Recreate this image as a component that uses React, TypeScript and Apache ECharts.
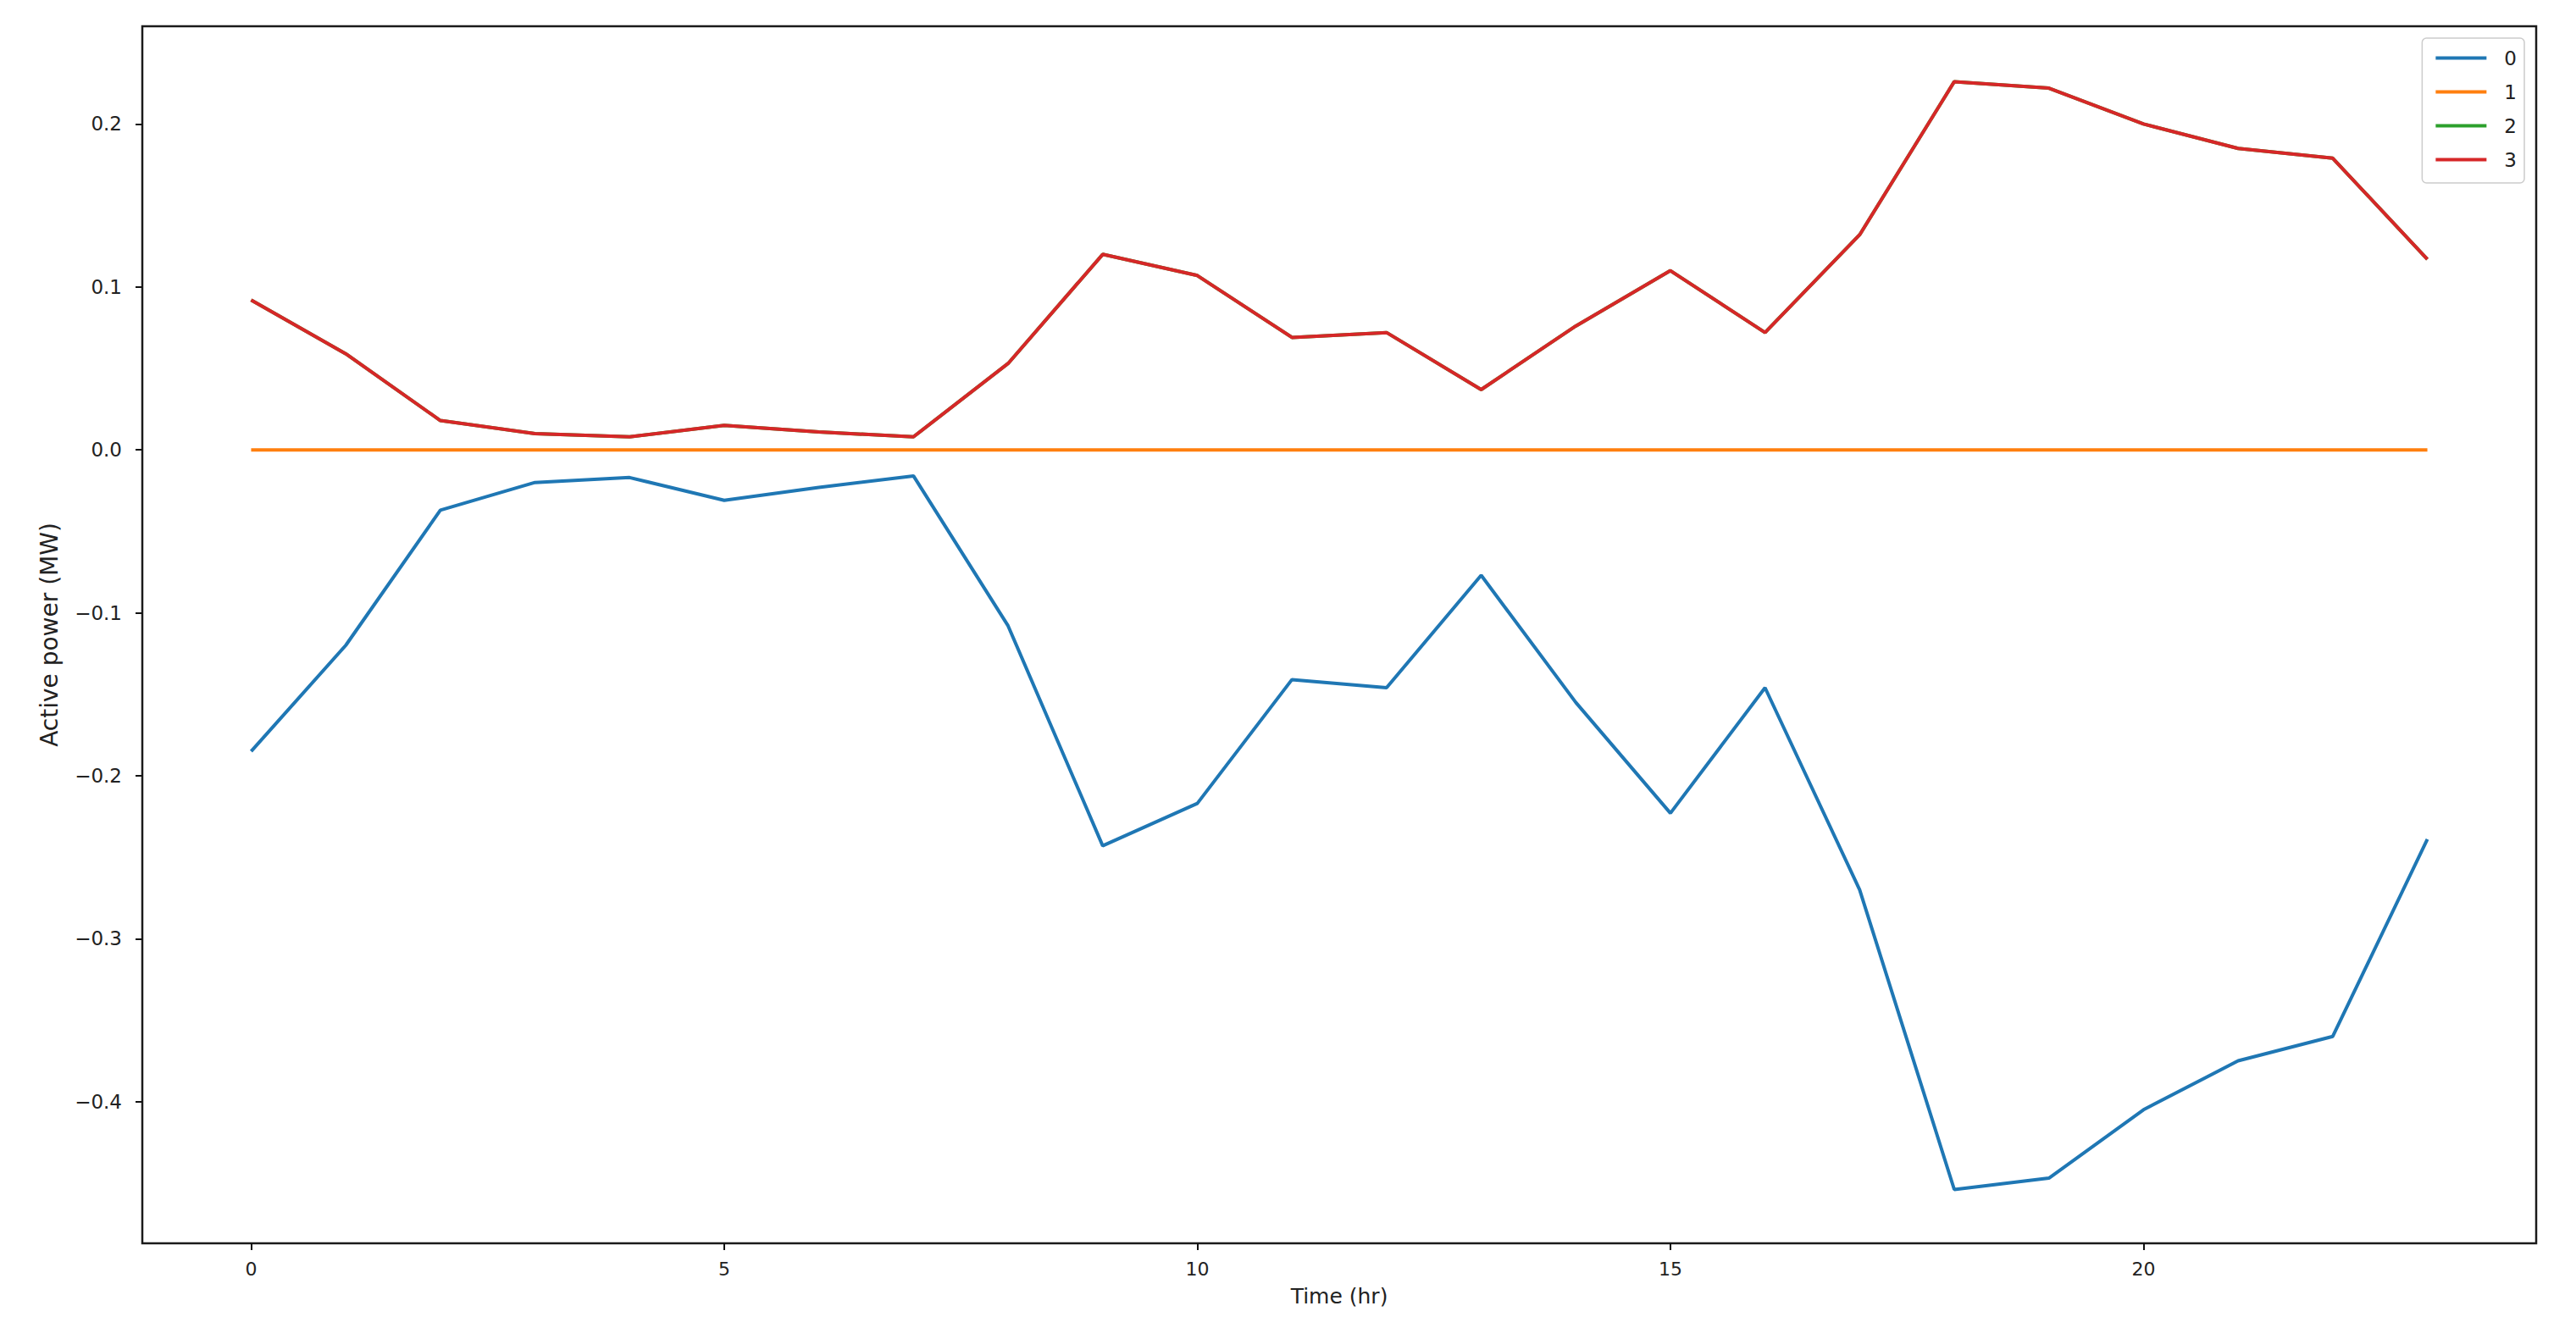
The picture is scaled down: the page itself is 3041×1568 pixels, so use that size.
import React, { useEffect, useRef } from "react";
import * as echarts from "echarts";

const hours = [0, 1, 2, 3, 4, 5, 6, 7, 8, 9, 10, 11, 12, 13, 14, 15, 16, 17, 18, 19, 20, 21, 22, 23];

const series0 = [
  -0.185, -0.120, -0.037, -0.020, -0.017, -0.031, -0.023, -0.016, -0.108, -0.243, -0.217, -0.141,
  -0.146, -0.077, -0.155, -0.223, -0.146, -0.270, -0.454, -0.447, -0.405, -0.375, -0.360, -0.239,
];
const series1 = [0, 0, 0, 0, 0, 0, 0, 0, 0, 0, 0, 0, 0, 0, 0, 0, 0, 0, 0, 0, 0, 0, 0, 0];
const series2 = [
  0.092, 0.059, 0.018, 0.010, 0.008, 0.015, 0.011, 0.008, 0.053, 0.120, 0.107, 0.069,
  0.072, 0.037, 0.076, 0.110, 0.072, 0.132, 0.226, 0.222, 0.200, 0.185, 0.179, 0.117,
];
const series3 = [
  0.092, 0.059, 0.018, 0.010, 0.008, 0.015, 0.011, 0.008, 0.053, 0.120, 0.107, 0.069,
  0.072, 0.037, 0.076, 0.110, 0.072, 0.132, 0.226, 0.222, 0.200, 0.185, 0.179, 0.117,
];

const seriesNames = ["0", "1", "2", "3"];
const seriesColors = ["#1f77b4", "#ff7f0e", "#2ca02c", "#d62728"];
const xTicks = [0, 5, 10, 15, 20];
const yTicks = [-0.4, -0.3, -0.2, -0.1, 0, 0.1, 0.2];

export default function App() {
  const ref = useRef<HTMLDivElement>(null);

  useEffect(() => {
    if (!ref.current) return;
    const chart = echarts.init(ref.current, null, { renderer: "svg" });
    const font = "'DejaVu Sans', 'Noto Sans', sans-serif";
    const allSeries = [series0, series1, series2, series3];

    chart.setOption({
      animation: false,
      backgroundColor: "#ffffff",
      grid: {
        left: 168,
        right: 47,
        top: 31,
        bottom: 100,
        show: true,
        borderColor: "#1a1a1a",
        borderWidth: 2.5,
        backgroundColor: "transparent",
      },
      legend: {
        orient: "vertical",
        right: 61,
        top: 45,
        padding: [12, 9, 16, 16],
        icon: "rect",
        itemWidth: 60,
        itemHeight: 4,
        itemGap: 17,
        backgroundColor: "rgba(255,255,255,0.8)",
        borderColor: "#cccccc",
        borderWidth: 1.5,
        borderRadius: 5,
        textStyle: {
          fontSize: 23,
          lineHeight: 22,
          color: "#222",
          fontFamily: font,
          padding: [0, 0, 0, 16],
        },
        data: seriesNames,
      },
      xAxis: {
        type: "value",
        min: -1.15,
        max: 24.15,
        axisLine: { show: false, onZero: false },
        splitLine: { show: false },
        axisTick: { show: true, length: 8, lineStyle: { color: "#111", width: 2 }, customValues: xTicks },
        axisLabel: { customValues: xTicks, fontSize: 22, color: "#222", fontFamily: font, margin: 19 },
        name: "Time (hr)",
        nameLocation: "middle",
        nameGap: 50,
        nameTextStyle: { fontSize: 25, color: "#222", fontFamily: font },
      },
      yAxis: {
        type: "value",
        min: -0.487,
        max: 0.26,
        axisLine: { show: false, onZero: false },
        splitLine: { show: false },
        axisTick: { show: true, length: 8, lineStyle: { color: "#111", width: 2 }, customValues: yTicks },
        axisLabel: {
          customValues: yTicks,
          fontSize: 23,
          color: "#222",
          fontFamily: font,
          margin: 24,
          formatter: (v: number) => (v < -1e-9 ? "\u2212" : "") + Math.abs(v).toFixed(1),
        },
        name: "Active power (MW)",
        nameLocation: "middle",
        nameGap: 96,
        nameTextStyle: { fontSize: 28, color: "#222", fontFamily: font },
      },
      series: allSeries.map((vals, i) => ({
        name: seriesNames[i],
        type: "line",
        symbol: "none",
        data: hours.map((h, j) => [h, vals[j]]),
        lineStyle: { color: seriesColors[i], width: 4 },
        itemStyle: { color: seriesColors[i] },
      })),
    });

    return () => chart.dispose();
  }, []);

  return (
    <div
      ref={ref}
      style={{ position: "fixed", left: 0, top: 0, width: 3041, height: 1568, background: "#fff" }}
    />
  );
}
